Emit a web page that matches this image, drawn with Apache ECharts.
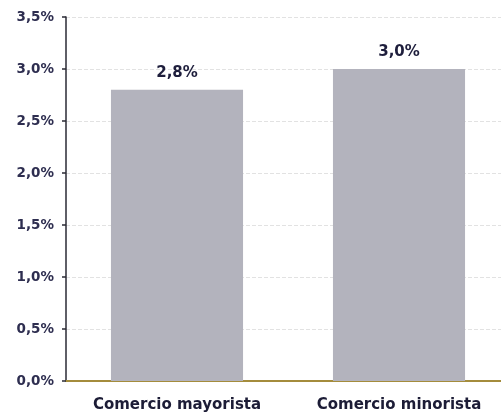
<!DOCTYPE html>
<html><head><meta charset="utf-8">
<script src="https://cdn.jsdelivr.net/npm/echarts@6/dist/echarts.min.js"></script>
<style>html,body{margin:0;padding:0;background:#fff;overflow:hidden}#c{width:501px;height:416px}</style>
</head><body><div id="c"></div>
<script>
var categories = ['Comercio mayorista', 'Comercio minorista'];
var values = [2.8, 3.0];
var yTicks = [0, 0.5, 1.0, 1.5, 2.0, 2.5, 3.0, 3.5];

function pct(v) { return v.toFixed(1).replace('.', ',') + '%'; }

var FONT = 'DejaVu Sans, Liberation Sans, Arial';
var chart = echarts.init(document.getElementById('c'), null, {renderer: 'canvas'});
chart.setOption({
  animation: false,
  backgroundColor: '#ffffff',
  grid: {left: 66, width: 444, top: 17, bottom: 35, outerBoundsMode: 'none', containLabel: false},
  xAxis: {
    type: 'category',
    data: categories,
    axisLine: {show: true, lineStyle: {color: '#a48c3c', width: 2}},
    axisTick: {show: false},
    axisLabel: {interval: 0, hideOverlap: false, color: '#1c1c36', fontFamily: FONT, fontWeight: 'bold', fontSize: 15, margin: 17}
  },
  yAxis: {
    type: 'value',
    min: 0, max: 3.5, interval: 0.5,
    axisLine: {show: true, lineStyle: {color: '#2a2a35', width: 1.5}},
    axisTick: {show: true, length: 4, inside: false, lineStyle: {color: '#2a2a35', width: 1.5}},
    axisLabel: {color: '#2e2e50', fontFamily: FONT, fontWeight: 'bold', fontSize: 13.5, margin: 12,
      formatter: function (v) { return pct(v); }},
    splitLine: {show: true, lineStyle: {color: '#e2e2e2', type: 'dashed', width: 1}}
  },
  series: [{
    type: 'bar',
    data: values,
    barCategoryGap: '40.5%',
    itemStyle: {color: '#b3b3bd'},
    label: {show: true, position: 'top', distance: 9, color: '#1e1e3c', fontFamily: FONT, fontWeight: 'bold', fontSize: 15,
      formatter: function (p) { return pct(p.value); }}
  }]
});
</script></body></html>
